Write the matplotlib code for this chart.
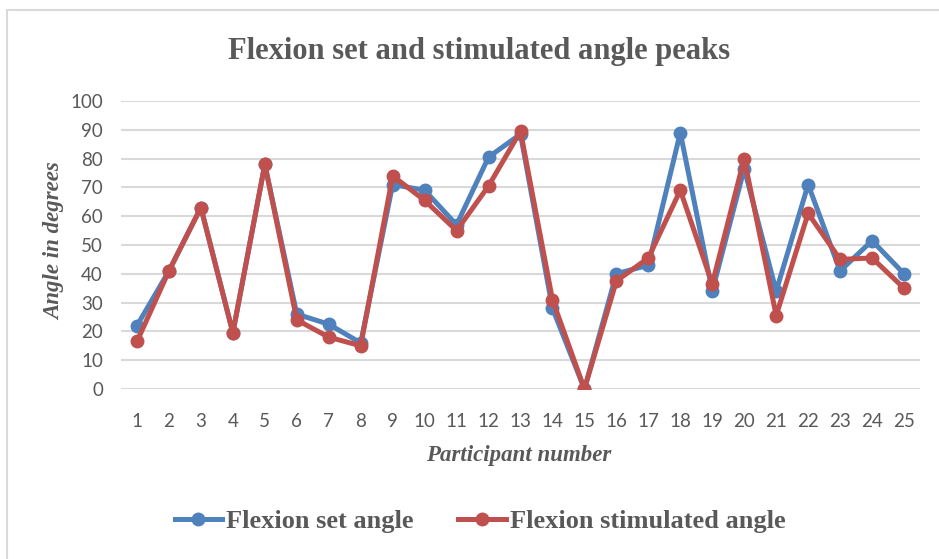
import matplotlib.pyplot as plt
from matplotlib.patches import Rectangle

participants = list(range(1, 26))
set_angle = [22, 41, 63, 19.5, 78, 26, 22.5, 16, 71, 69, 57, 80.5, 88.5, 28, 0,
             40, 43, 89, 34, 76.5, 34, 71, 41, 51.5, 40]
stim_angle = [16.5, 41, 63, 19.5, 78, 24, 18, 15, 74, 65.5, 55, 70.5, 89.5, 31, 0,
              37.5, 45.5, 69, 36.5, 80, 25.5, 61, 45, 45.5, 35]

gray = '#595959'
blue = '#4F81BD'
red = '#C0504D'
W, H = 939, 559

fig = plt.figure(figsize=(9.39, 5.59), dpi=100)
fig.patches.append(Rectangle((7/W, -0.1), 1.2, 1 - 10/H + 0.1, transform=fig.transFigure,
                             fill=False, edgecolor='#d9d9d9', linewidth=1.5))
ax = fig.add_axes([121/W, 1 - 389/H, 799/W, 288/H])

l1, = ax.plot(participants, set_angle, color=blue, lw=3.6, marker='o', ms=9,
              label='Flexion set angle', zorder=3)
l2, = ax.plot(participants, stim_angle, color=red, lw=3.6, marker='o', ms=9,
              label='Flexion stimulated angle', zorder=4)

ax.set_xlim(0.5, 25.5)
ax.set_ylim(0, 100)
ax.set_yticks(range(0, 101, 10))
ax.set_xticks(participants)
ax.grid(axis='y', color='#d9d9d9', lw=1.5, zorder=0)
ax.set_axisbelow(True)
for s in ax.spines.values():
    s.set_visible(False)
ax.tick_params(length=0, labelsize=13.5, labelcolor=gray)
ax.tick_params(axis='y', pad=13)
ax.tick_params(axis='x', pad=17)
for lab in ax.get_xticklabels() + ax.get_yticklabels():
    lab.set_family('Lato')

serif = dict(family='Liberation Serif', fontweight='bold', color=gray)
fig.text(479/W, 1 - 52/H, 'Flexion set and stimulated angle peaks',
         ha='center', va='center', fontsize=22, **serif)
fig.text(55/W, 1 - 241/H, 'Angle in degrees', rotation=90, ha='center', va='center',
         fontsize=16.5, fontstyle='italic', **serif)
fig.text(519/W, 1 - 455/H, 'Participant number', ha='center', va='center',
         fontsize=16.5, fontstyle='italic', **serif)

fig.legend(handles=[l1, l2], loc='center', bbox_to_anchor=(480/W, 1 - 521/H),
           ncol=2, frameon=False, handlelength=1.8, handletextpad=0.15,
           columnspacing=1.7,
           prop={'family': 'Liberation Serif', 'weight': 'bold', 'size': 19},
           labelcolor=gray)

fig.savefig('out.png', dpi=100)
